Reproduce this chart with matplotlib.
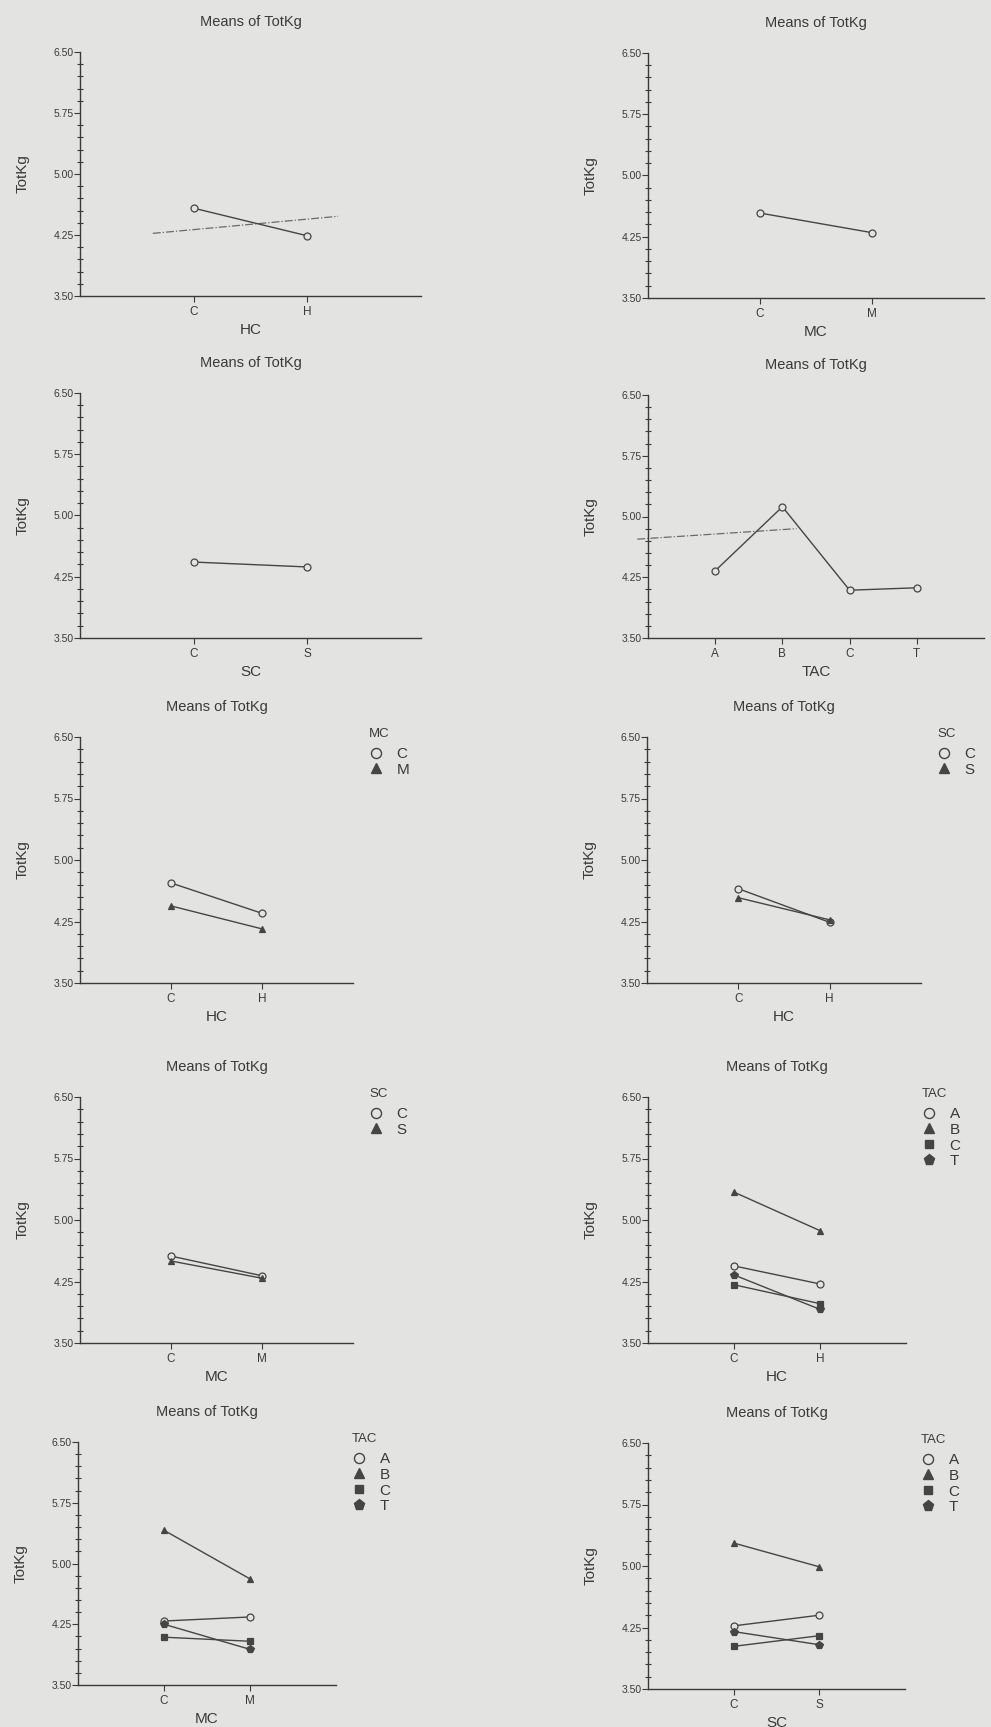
import matplotlib
matplotlib.use("Agg")
import matplotlib.pyplot as plt
from matplotlib.lines import Line2D
from matplotlib.ticker import FixedLocator
import numpy as np

plt.rcParams['font.family'] = ['Liberation Sans', 'DejaVu Sans']

# ── data (means of TotKg) ───────────────────────────────────────────────────
hc_levels  = ["C", "H"]
mc_levels  = ["C", "M"]
sc_levels  = ["C", "S"]
tac_levels = ["A", "B", "C", "T"]

hc_means  = [4.58, 4.24]
mc_means  = [4.54, 4.30]
sc_means  = [4.43, 4.37]
tac_means = [4.33, 5.12, 4.09, 4.12]

hc_by_mc = {"C": [4.72, 4.35], "M": [4.44, 4.16]}
hc_by_sc = {"C": [4.65, 4.24], "S": [4.54, 4.27]}
mc_by_sc = {"C": [4.56, 4.32], "S": [4.50, 4.29]}
hc_by_tac = {"A": [4.44, 4.22], "B": [5.34, 4.87], "C": [4.21, 3.98], "T": [4.33, 3.91]}
mc_by_tac = {"A": [4.29, 4.34], "B": [5.41, 4.81], "C": [4.09, 4.04], "T": [4.25, 3.94]}
sc_by_tac = {"A": [4.27, 4.40], "B": [5.28, 4.99], "C": [4.02, 4.15], "T": [4.20, 4.04]}

# show-through from the reverse page (faint dash-dot strokes)
bleed_p1_x = [0.64, 2.27]
bleed_p1_y = [4.27, 4.48]
bleed_p4_x = [-0.16, 2.21]
bleed_p4_y = [4.72, 4.85]

y_major = [3.50, 4.25, 5.00, 5.75, 6.50]

# ── layout ──────────────────────────────────────────────────────────────────
W, H = 991, 1727
BG  = "#e3e3e1"
INK = "#3a3a3a"
LN  = "#454545"
fig = plt.figure(figsize=(W / 100, H / 100), dpi=100, facecolor=BG)

MARK = {"C": dict(marker="o", mfc=BG, ms=5),
        "A": dict(marker="o", mfc=BG, ms=5),
        "B": dict(marker="^", mfc=LN, ms=5),
        "M": dict(marker="^", mfc=LN, ms=5),
        "S": dict(marker="^", mfc=LN, ms=5),
        "Csq": dict(marker="s", mfc=LN, ms=4),
        "T": dict(marker="p", mfc=LN, ms=5.5)}


def make_ax(l, t, r, b, levels, xlabel):
    ax = fig.add_axes([l / W, 1 - b / H, (r - l) / W, (b - t) / H])
    ax.set_facecolor("none")
    ax._px = (l, t, r, b)
    for s in ("top", "right"):
        ax.spines[s].set_visible(False)
    for s in ("left", "bottom"):
        ax.spines[s].set_color(INK)
        ax.spines[s].set_linewidth(1.0)
    n = len(levels)
    ax.set_xlim(0, n + 1)
    ax.set_ylim(3.5, 6.5)
    ax.set_xticks(range(1, n + 1))
    ax.set_xticklabels(levels, fontsize=8.5, color=INK)
    ax.set_yticks(y_major)
    ax.set_yticklabels([f"{v:.2f}" for v in y_major], fontsize=7.5, color=INK)
    ax.yaxis.set_minor_locator(FixedLocator(np.arange(3.5, 6.51, 0.15)))
    ax.tick_params(axis="y", which="major", direction="out", length=4,
                   width=0.8, color=INK, pad=0.5)
    ax.tick_params(axis="y", which="minor", direction="inout", length=4,
                   width=0.8, color=INK)
    ax.tick_params(axis="x", direction="out", length=4, width=0.8,
                   color=INK, pad=3)
    ax.set_title("Means of TotKg", fontsize=10.5, color=INK, pad=19)
    ax.set_xlabel(xlabel, fontsize=11, color=INK, labelpad=3.5)
    ax.set_ylabel("TotKg", fontsize=11, color=INK, labelpad=17)
    return ax


def line(ax, x, y, key):
    st = MARK[key]
    ax.plot(x, y, color=LN, lw=1.0, marker=st["marker"], ms=st["ms"],
            mfc=st["mfc"], mec=LN, mew=0.9, clip_on=False)


def legend(ax, title, keys, labels):
    l, t, r, b = ax._px
    handles = [Line2D([], [], ls="none", marker=MARK[k]["marker"],
                      ms=MARK[k]["ms"] * 1.45, mfc=MARK[k]["mfc"], mec=LN,
                      mew=1.0) for k in keys]
    leg = ax.legend(handles, labels, title=title, loc="upper left",
                    bbox_to_anchor=((r + 16) / W, 1 - (t - 9) / H),
                    bbox_transform=fig.transFigure, frameon=False,
                    alignment="left", handlelength=0.9, handletextpad=0.9,
                    labelspacing=0.12, borderpad=0, borderaxespad=0,
                    fontsize=11, title_fontsize=9.5)
    leg._legend_box.sep = 5
    for tx in leg.get_texts():
        tx.set_color(INK)
    leg.get_title().set_color(INK)


# panel 1: HC
ax = make_ax(80, 52, 421, 296, hc_levels, "HC")
ax.plot(bleed_p1_x, bleed_p1_y, color="#6a6a6a", lw=0.9, ls="-.", clip_on=False)
line(ax, [1, 2], hc_means, "C")

# panel 2: MC
ax = make_ax(648, 53, 984, 298, mc_levels, "MC")
line(ax, [1, 2], mc_means, "C")

# panel 3: SC
ax = make_ax(80, 393, 421, 638, sc_levels, "SC")
line(ax, [1, 2], sc_means, "C")

# panel 4: TAC
ax = make_ax(648, 395, 984, 638, tac_levels, "TAC")
ax.plot(bleed_p4_x, bleed_p4_y, color="#6a6a6a", lw=0.9, ls="-.", clip_on=False)
line(ax, [1, 2, 3, 4], tac_means, "C")

# panel 5: HC x MC
ax = make_ax(80, 737, 353, 983, hc_levels, "HC")
line(ax, [1, 2], hc_by_mc["C"], "C")
line(ax, [1, 2], hc_by_mc["M"], "M")
legend(ax, "MC", ["C", "M"], mc_levels)

# panel 6: HC x SC
ax = make_ax(647, 737, 921, 983, hc_levels, "HC")
line(ax, [1, 2], hc_by_sc["C"], "C")
line(ax, [1, 2], hc_by_sc["S"], "S")
legend(ax, "SC", ["C", "S"], sc_levels)

# panel 7: MC x SC
ax = make_ax(80, 1097, 353, 1343, mc_levels, "MC")
line(ax, [1, 2], mc_by_sc["C"], "C")
line(ax, [1, 2], mc_by_sc["S"], "S")
legend(ax, "SC", ["C", "S"], sc_levels)

tac_keys = ["A", "B", "Csq", "T"]

# panel 8: HC x TAC
ax = make_ax(648, 1097, 906, 1343, hc_levels, "HC")
for lev, k in zip(tac_levels, tac_keys):
    line(ax, [1, 2], hc_by_tac[lev], k)
legend(ax, "TAC", tac_keys, tac_levels)

# panel 9: MC x TAC
ax = make_ax(78, 1442, 336, 1685, mc_levels, "MC")
for lev, k in zip(tac_levels, tac_keys):
    line(ax, [1, 2], mc_by_tac[lev], k)
legend(ax, "TAC", tac_keys, tac_levels)

# panel 10: SC x TAC
ax = make_ax(648, 1443, 905, 1689, sc_levels, "SC")
for lev, k in zip(tac_levels, tac_keys):
    line(ax, [1, 2], sc_by_tac[lev], k)
legend(ax, "TAC", tac_keys, tac_levels)

fig.savefig("out.png", dpi=100, facecolor=BG)
plt.close(fig)
